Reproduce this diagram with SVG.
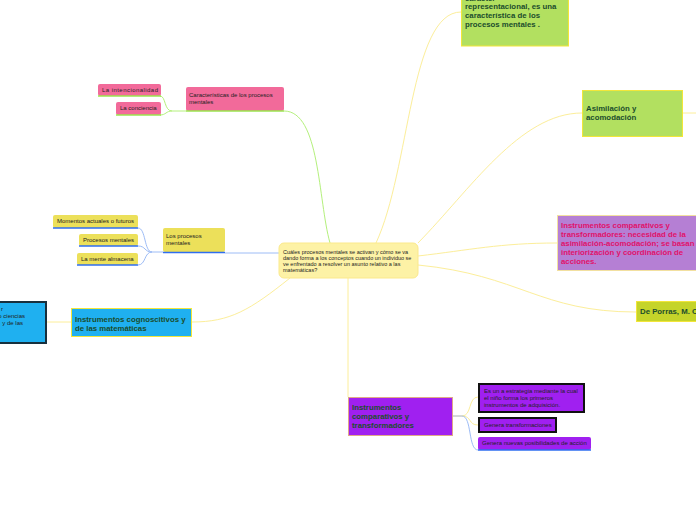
<svg xmlns="http://www.w3.org/2000/svg" width="696" height="520" viewBox="0 0 696 520">
<style>
text{font-family:"Liberation Sans",Arial,sans-serif;}
.c{font-size:5.5px;fill:#222;}
.s{font-size:6px;fill:#222;}
.b{font-size:7.8px;font-weight:bold;fill:#1b4d2c;}
.p{fill:#e0126a;}
.cy{fill:none;stroke:#fcee9a;stroke-width:1;}
.cg{fill:none;stroke:#b4f07c;stroke-width:1;}
.cb{fill:none;stroke:#9dbcf6;stroke-width:1;}
.ug{stroke:#9ae64e;stroke-width:1.5;}
.ub{stroke:#2f6ef0;stroke-width:1.5;}
</style>
<rect width="696" height="520" fill="#fff"/>
<g id="connectors">
<path class="cg" d="M284,111 C320,111 318,200 330,243"/>
<path class="cg" d="M186,111 L172,111 C164,111 166,96 160,96"/>
<path class="cg" d="M172,111 C166,111 166,115 160,115"/>
<path class="cy" d="M376,243 C410,170 410,12 461,12"/>
<path class="cy" d="M418,243 C470,190 520,113 582,113"/>
<path class="cy" d="M683,113 L696,113"/>
<path class="cy" d="M418,256 C470,250 500,243 557,243"/>
<path class="cy" d="M418,265 C520,275 540,312 636,312"/>
<path class="cb" d="M279,253 L225,253"/>
<path class="cb" d="M163,252 L152,252 C144,252 146,228 138,228"/>
<path class="cb" d="M152,252 C144,252 146,246 138,246"/>
<path class="cb" d="M152,252 C144,252 146,265 138,265"/>
<path class="cy" d="M290,278 C250,310 230,322 192,322"/>
<path class="cy" d="M71,322 L46,322"/>
<path class="cy" d="M348,278 L348,397"/>
<path d="M453,416 L462,416" fill="none" stroke="#a8b0b0" stroke-width="1"/>
<path class="cy" d="M462,416 C472,416 468,397 478,397"/>
<path class="cy" d="M462,416 C472,416 468,425 478,425"/>
<path class="cb" d="M462,416 C472,416 468,450 478,450"/>
</g>
<g id="center">
<rect x="279" y="243" width="139" height="35" rx="5" fill="#fdf2a6" stroke="#fbe98c" stroke-width="1"/>
<text class="c" x="283" y="254">Cuáles procesos mentales se activan y cómo se va</text>
<text class="c" x="283" y="260">dando forma a   los conceptos cuando un individuo se</text>
<text class="c" x="283" y="266">ve enfrentado a resolver un   asunto relativo a las</text>
<text class="c" x="283" y="272">matemáticas?</text>
</g>
<g id="caracter">
<rect x="461.5" y="-5" width="107" height="51" fill="#b2e060" stroke="#f2e63a" stroke-width="1"/>
<text class="b" x="465" y="0.5">carácter</text>
<text class="b" x="465" y="9">representacional, es una</text>
<text class="b" x="465" y="18">característica de los</text>
<text class="b" x="465" y="27">procesos mentales .</text>
</g>
<g id="asimilacion">
<rect x="582.5" y="90.5" width="100" height="46" fill="#b2e060" stroke="#f2e63a" stroke-width="1"/>
<text class="b" x="586" y="111">Asimilación y</text>
<text class="b" x="586" y="120">acomodación</text>
</g>
<g id="instr-comp-trans">
<rect x="557.5" y="215.5" width="145" height="55" fill="#b57fd4" stroke="#f2e0a0" stroke-width="1"/>
<text class="b p" x="561" y="228">Instrumentos comparativos y</text>
<text class="b p" x="561" y="237">transformadores: necesidad de la</text>
<text class="b p" x="561" y="246">asimilación-acomodación; se basan</text>
<text class="b p" x="561" y="255">interiorización  y coordinación de</text>
<text class="b p" x="561" y="264">acciones.</text>
</g>
<g id="deporras">
<rect x="636.5" y="301.5" width="65" height="20" fill="#c5d42a" stroke="#f2e63a" stroke-width="1"/>
<text class="b" x="640" y="314">De Porras, M. C</text>
</g>
<g id="caracteristicas">
<rect x="186" y="87" width="98" height="24" rx="2" fill="#f26a9a"/>
<line class="ug" x1="186" y1="111" x2="284" y2="111"/>
<text class="s" x="189" y="97">Características de los procesos</text>
<text class="s" x="189" y="104">mentales</text>
</g>
<g id="intencionalidad">
<rect x="98" y="84" width="63" height="12" rx="2" fill="#f26a9a"/>
<line class="ug" x1="98" y1="96" x2="161" y2="96"/>
<text class="s" x="102" y="92" textLength="56">La intencionalidad</text>
</g>
<g id="conciencia">
<rect x="116" y="102" width="45" height="13" rx="2" fill="#f26a9a"/>
<line class="ug" x1="116" y1="115" x2="161" y2="115"/>
<text class="s" x="120" y="110">La conciencia</text>
</g>
<g id="losprocesos">
<rect x="163" y="228" width="62" height="24" rx="2" fill="#ece05a"/>
<line class="ub" x1="163" y1="252.5" x2="225" y2="252.5"/>
<text class="s" x="166" y="238">Los procesos</text>
<text class="s" x="166" y="245">mentales</text>
</g>
<g id="momentos">
<rect x="53" y="215" width="85" height="13" rx="2" fill="#ece05a"/>
<line class="ub" x1="53" y1="228" x2="138" y2="228"/>
<text class="s" x="57" y="223">Momentos actuales o futuros</text>
</g>
<g id="procesosmentales">
<rect x="79" y="234" width="59" height="12" rx="2" fill="#ece05a"/>
<line class="ub" x1="79" y1="246" x2="138" y2="246"/>
<text class="s" x="83" y="242">Procesos mentales</text>
</g>
<g id="mente">
<rect x="77" y="253" width="61" height="12" rx="2" fill="#ece05a"/>
<line class="ub" x1="77" y1="265" x2="138" y2="265"/>
<text class="s" x="81" y="261">La mente almacena</text>
</g>
<g id="cognoscitivos">
<rect x="71.5" y="308.5" width="120" height="28" fill="#1fb0f0" stroke="#f2e63a" stroke-width="1"/>
<text class="b" x="75" y="322">Instrumentos cognoscitivos y</text>
<text class="b" x="75" y="331">de las matemáticas</text>
</g>
<g id="leftbox">
<rect x="-10" y="302" width="56" height="41" fill="#1fb0f0" stroke="#17303e" stroke-width="2"/>
<text class="s" x="3" y="311" text-anchor="end">r</text>
<text class="s" x="25" y="318" text-anchor="end">o ciencias</text>
<text class="s" x="23" y="325" text-anchor="end">y de las</text>
</g>
<g id="instr-comp">
<rect x="348.5" y="397.5" width="104" height="38" fill="#a020f0" stroke="#e0a888" stroke-width="1"/>
<text class="b" x="352" y="410">Instrumentos</text>
<text class="b" x="352" y="419">comparativos y</text>
<text class="b" x="352" y="428">transformadores</text>
</g>
<g id="estrategia">
<rect x="479" y="384" width="105" height="28" fill="#a020f0" stroke="#111" stroke-width="2"/>
<text class="s" x="484" y="393">Es un a estrategia mediante la cual</text>
<text class="s" x="484" y="400">el niño forma los primeros</text>
<text class="s" x="484" y="407">instrumentos de adquisición.</text>
</g>
<g id="genera-trans">
<rect x="479" y="418" width="77" height="14" fill="#a020f0" stroke="#111" stroke-width="2"/>
<text class="s" x="484" y="427">Genera transformaciones</text>
</g>
<g id="genera-nuevas">
<rect x="478" y="437" width="113" height="13" rx="2" fill="#a020f0"/>
<line class="ub" x1="478" y1="450" x2="591" y2="450"/>
<text class="s" x="482" y="445">Genera nuevas posibilidades de acción</text>
</g>
</svg>
